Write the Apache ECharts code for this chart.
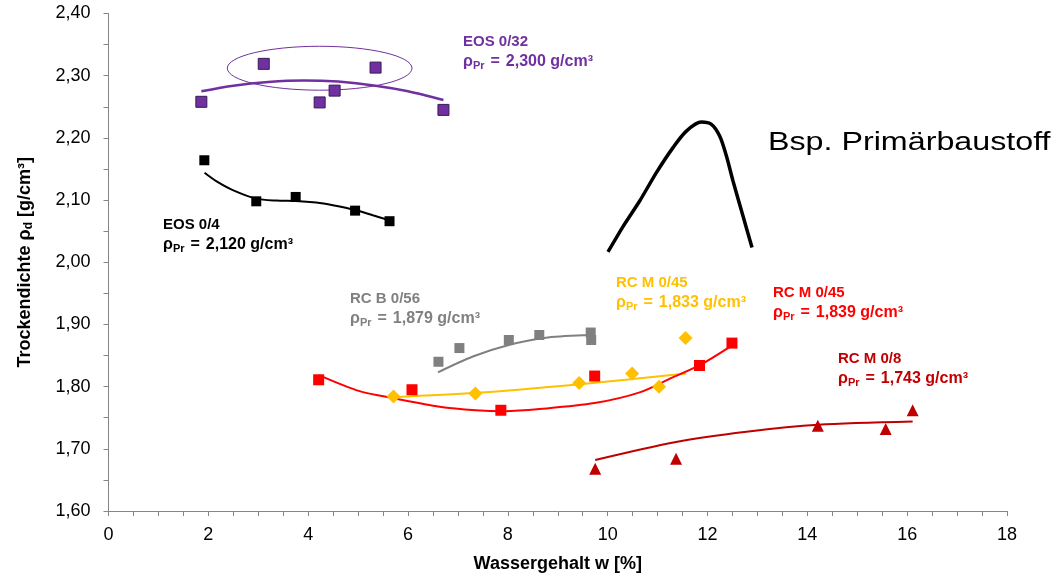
<!DOCTYPE html>
<html>
<head>
<meta charset="utf-8">
<script src="https://cdn.jsdelivr.net/npm/echarts@6/dist/echarts.min.js"></script>
<style>html,body{margin:0;padding:0;background:#fff}#c{width:1064px;height:578px}</style>
</head>
<body>
<div id="c"></div>
<script>
// ---- tick labels ----
const xTicks = [0, 2, 4, 6, 8, 10, 12, 14, 16, 18];
const yTicks = ['1,60', '1,70', '1,80', '1,90', '2,00', '2,10', '2,20', '2,30', '2,40'];

// ---- measured points ----
const eos032X = [1.86, 3.11, 4.23, 4.53, 5.35, 6.71];
const eos032Y = [2.258, 2.319, 2.257, 2.276, 2.313, 2.245];
const eos04X = [1.92, 2.96, 3.75, 4.94, 5.63];
const eos04Y = [2.164, 2.098, 2.105, 2.083, 2.066];
const rcb056X = [6.61, 7.03, 8.02, 8.63, 9.66, 9.67];
const rcb056Y = [1.840, 1.862, 1.875, 1.883, 1.887, 1.875];
const rcm045yX = [5.71, 7.35, 9.43, 10.49, 11.03, 11.56];
const rcm045yY = [1.784, 1.789, 1.806, 1.821, 1.800, 1.878];
const rcm045rX = [4.21, 6.08, 7.86, 9.74, 11.84, 12.49];
const rcm045rY = [1.811, 1.795, 1.762, 1.817, 1.834, 1.870];
const rcm08X = [9.75, 11.37, 14.21, 15.57, 16.11];
const rcm08Y = [1.668, 1.684, 1.737, 1.732, 1.762];

// ---- trend lines ----
const eos032Trend = [[1.86, 2.275], [2.5, 2.284], [3.2, 2.290], [3.92, 2.2924], [4.6, 2.2905], [5.35, 2.284], [6.0, 2.275], [6.71, 2.261]];
const eos04Trend = [[1.924, 2.144], [2.158, 2.1306], [2.491, 2.1161], [2.96, 2.1023], [3.361, 2.0991], [3.747, 2.0985], [4.162, 2.0959], [4.495, 2.0916], [4.942, 2.084], [5.295, 2.0755], [5.631, 2.0675]];
const rcb056Trend = [[6.60, 1.823], [7.3, 1.8485], [8.02, 1.867], [8.8, 1.879], [9.67, 1.883]];
const rcm045yTrend = [[5.71, 1.783], [7.35, 1.790], [9.44, 1.804], [11.57, 1.821]];
const rcm045rTrend = [[4.214, 1.8185], [5.03, 1.7927], [5.711, 1.7814], [6.633, 1.7677], [7.355, 1.7621], [7.936, 1.7606], [8.637, 1.764], [9.739, 1.7735], [10.641, 1.7907], [11.303, 1.8148], [11.844, 1.8345], [12.479, 1.8656]];
const rcm08Trend = [[9.75, 1.682], [11.37, 1.711], [12.78, 1.7274], [14.21, 1.7387], [16.11, 1.744]];
const primaryCurve = [[10.006, 2.0165], [10.307, 2.0574], [10.641, 2.0985], [10.976, 2.1441], [11.309, 2.1843], [11.577, 2.2109], [11.878, 2.2254], [12.078, 2.2217], [12.244, 2.2029], [12.379, 2.1708], [12.511, 2.1306], [12.711, 2.0744], [12.892, 2.0236]];

// ---- ellipse annotation: center x, center y, radius x, radius y ----
const ellipseData = [[4.23, 2.312, 1.85, 0.0353]];

// ---- label texts ----
const seriesNames = ['EOS 0/32', 'EOS 0/4', 'RC B 0/56', 'RC M 0/45', 'RC M 0/45', 'RC M 0/8'];
const rhoValues = ['2,300', '2,120', '1,879', '1,833', '1,839', '1,743'];
const colors = ['#7030A0', '#000000', '#808080', '#FFC000', '#FF0000', '#C00000'];

const FONT = 'Liberation Sans, Arial, Helvetica, sans-serif';
const zip = (xs, ys) => xs.map((x, i) => [x, ys[i]]);

const labelPos = [[463, 34], [163, 217], [350, 291], [616, 275], [773, 285], [838, 351]];
function label(i) {
  const c = colors[i];
  const b = { fontWeight: 'bold', fontFamily: FONT, fill: c, lineHeight: 20 };
  return {
    type: 'text', left: labelPos[i][0], top: labelPos[i][1], z: 100,
    style: {
      text: '{a|' + seriesNames[i] + '}\n{b|ρ}{s|Pr}{e|=}{b|' + rhoValues[i] + ' g/cm³}',
      rich: {
        a: Object.assign({ fontSize: 15 }, b),
        b: Object.assign({ fontSize: 16 }, b),
        e: Object.assign({ fontSize: 16, padding: [0, 6, 0, 6] }, b),
        s: { fontSize: 11, fontWeight: 'bold', fontFamily: FONT, fill: c, lineHeight: 14, verticalAlign: 'bottom' }
      }
    }
  };
}

function scatter(name, data, symbol, size, color, border) {
  return {
    type: 'scatter', name, data, symbol, symbolSize: size, z: 5,
    itemStyle: { color, borderColor: border || color, borderWidth: border ? 1 : 0, opacity: 1 }
  };
}
function trend(name, data, color, width) {
  return {
    type: 'line', name, data, smooth: 0.3, showSymbol: false, symbol: 'none', z: 3,
    lineStyle: { color, width: width || 2 }
  };
}

const axisColor = '#868686';
const chart = echarts.init(document.getElementById('c'), null, { renderer: 'canvas' });
chart.setOption({
  animation: false,
  backgroundColor: '#fff',
  textStyle: { fontFamily: FONT },
  grid: { left: 108.5, right: 57, top: 13.5, bottom: 66, containLabel: false },
  xAxis: {
    type: 'value', min: 0, max: 18, interval: 2,
    name: 'Wassergehalt w [%]', nameLocation: 'middle', nameGap: 44,
    nameTextStyle: { fontSize: 18, fontWeight: 'bold', color: '#000', fontFamily: FONT },
    axisLine: { show: true, lineStyle: { color: axisColor, width: 1 } },
    axisTick: { show: true, length: 5, lineStyle: { color: axisColor } },
    minorTick: { show: true, splitNumber: 4, length: 5, lineStyle: { color: axisColor } },
    splitLine: { show: false },
    axisLabel: { margin: 15, fontSize: 18, color: '#000', fontFamily: FONT,
      formatter: v => { const i = xTicks.indexOf(Math.round(v)); return i >= 0 ? String(xTicks[i]) : ''; } }
  },
  yAxis: {
    type: 'value', min: 1.6, max: 2.4, interval: 0.1,
    name: 'Trockendichte ρ{s|d} [g/cm³]', nameLocation: 'middle', nameGap: 74, nameRotate: 90,
    nameTextStyle: { fontSize: 18, fontWeight: 'bold', color: '#000', fontFamily: FONT,
      rich: { s: { fontSize: 12, fontWeight: 'bold', color: '#000', fontFamily: FONT, verticalAlign: 'bottom', lineHeight: 15 } } },
    axisLine: { show: true, lineStyle: { color: axisColor, width: 1 } },
    axisTick: { show: true, length: 5, lineStyle: { color: axisColor } },
    minorTick: { show: true, splitNumber: 2, length: 5, lineStyle: { color: axisColor } },
    splitLine: { show: false },
    axisLabel: { margin: 18, fontSize: 18, color: '#000', fontFamily: FONT,
      formatter: v => yTicks[Math.round((v - 1.6) * 10)] }
  },
  series: [
    trend('EOS 0/32 Trend', eos032Trend, colors[0], 2.5),
    trend('EOS 0/4 Trend', eos04Trend, colors[1], 2),
    trend('RC B 0/56 Trend', rcb056Trend, colors[2], 2),
    trend('RC M 0/45 gelb Trend', rcm045yTrend, colors[3], 2),
    trend('RC M 0/45 rot Trend', rcm045rTrend, colors[4], 2),
    trend('RC M 0/8 Trend', rcm08Trend, colors[5], 2),
    trend('Bsp. Primärbaustoff', primaryCurve, '#000', 3.5),
    {
      type: 'custom', name: 'ellipse', data: ellipseData, encode: { x: 0, y: 1 }, z: 2,
      renderItem: (params, api) => {
        const c = api.coord([api.value(0), api.value(1)]);
        const s = api.size([api.value(2), api.value(3)]);
        return { type: 'ellipse', shape: { cx: c[0], cy: c[1], rx: s[0], ry: s[1] },
          style: { fill: 'none', stroke: colors[0], lineWidth: 1 } };
      }
    },
    scatter('EOS 0/32', zip(eos032X, eos032Y), 'rect', 11, colors[0], '#3a1a55'),
    scatter('EOS 0/4', zip(eos04X, eos04Y), 'rect', 10, colors[1]),
    scatter('RC B 0/56', zip(rcb056X, rcb056Y), 'rect', 10, colors[2]),
    scatter('RC M 0/45 gelb', zip(rcm045yX, rcm045yY), 'diamond', 14, colors[3]),
    scatter('RC M 0/45 rot', zip(rcm045rX, rcm045rY), 'rect', 11, colors[4]),
    scatter('RC M 0/8', zip(rcm08X, rcm08Y), 'triangle', 12, colors[5])
  ],
  graphic: [
    label(0), label(1), label(2), label(3), label(4), label(5),
    { type: 'text', x: 768, y: 142.5, scaleX: 1.24, z: 100,
      style: { text: 'Bsp. Primärbaustoff', fontSize: 26, fontFamily: FONT, fill: '#000',
        verticalAlign: 'middle', textVerticalAlign: 'middle', align: 'left' } }
  ]
});
</script>
</body>
</html>
